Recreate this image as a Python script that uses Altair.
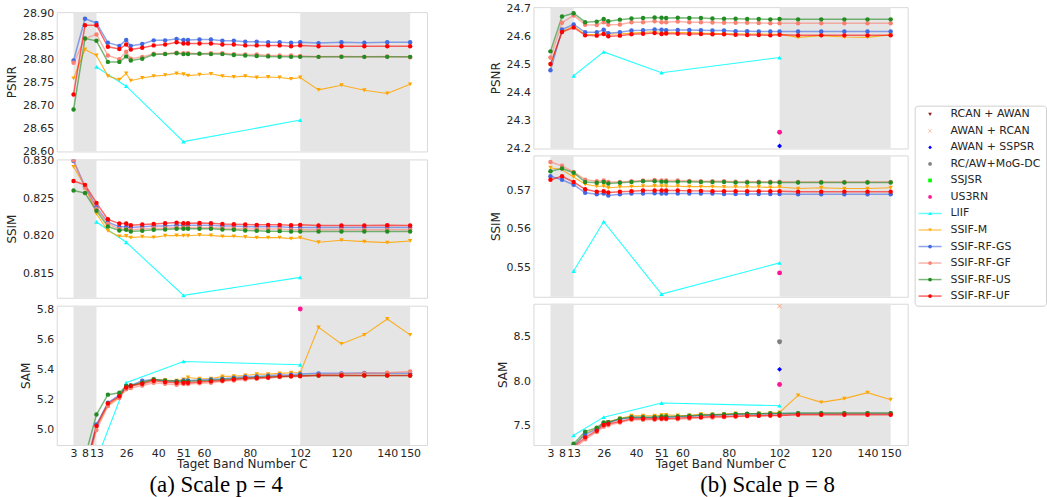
import altair as alt
import pandas as pd

# ---------------- data ----------------
X = [3, 8, 13, 18, 23, 26, 28, 33, 38, 43, 48, 51, 53, 58, 63, 68, 73, 78, 83, 88,
     93, 98, 102, 110, 120, 130, 140, 150]
X_LIIF = [13, 26, 51, 102]
X_SINGLE = 102
X_TICKS = [3, 8, 13, 26, 40, 51, 60, 80, 102, 120, 140, 150]
SHADE_FROM = [3, 102]
SHADE_TO = [13, 150]

SERIES = ["LIIF", "SSIF-M", "SSIF-RF-GS", "SSIF-RF-GF", "SSIF-RF-US", "SSIF-RF-UF"]
SINGLES = ["RCAN + AWAN", "AWAN + RCAN", "AWAN + SSPSR", "RC/AW+MoG-DCN", "SSJSR", "US3RN"]

# ---- scale p = 4 ----
P4_PSNR_LIIF = [28.784, 28.742, 28.621, 28.668]
P4_PSNR_M = [28.759, 28.822, 28.809, 28.764, 28.756, 28.770, 28.754, 28.760, 28.764, 28.766,
             28.770, 28.768, 28.765, 28.767, 28.769, 28.764, 28.762, 28.764, 28.761, 28.762,
             28.761, 28.758, 28.761, 28.734, 28.744, 28.733, 28.726, 28.746]
P4_PSNR_GS = [28.798, 28.889, 28.880, 28.837, 28.830, 28.843, 28.830, 28.834, 28.842, 28.842,
              28.845, 28.843, 28.843, 28.844, 28.844, 28.841, 28.841, 28.839, 28.839, 28.838,
              28.838, 28.837, 28.838, 28.836, 28.838, 28.837, 28.838, 28.838]
P4_PSNR_GF = [28.793, 28.846, 28.855, 28.809, 28.801, 28.817, 28.802, 28.806, 28.813, 28.813,
              28.815, 28.814, 28.814, 28.813, 28.814, 28.814, 28.812, 28.811, 28.811, 28.809,
              28.809, 28.809, 28.808, 28.806, 28.807, 28.806, 28.807, 28.805]
P4_PSNR_US = [28.691, 28.846, 28.841, 28.795, 28.795, 28.807, 28.798, 28.802, 28.811, 28.812,
              28.814, 28.812, 28.812, 28.813, 28.812, 28.812, 28.810, 28.809, 28.808, 28.807,
              28.806, 28.806, 28.806, 28.806, 28.806, 28.806, 28.806, 28.806]
P4_PSNR_UF = [28.724, 28.875, 28.875, 28.828, 28.823, 28.833, 28.822, 28.826, 28.831, 28.833,
              28.838, 28.835, 28.835, 28.835, 28.835, 28.833, 28.833, 28.831, 28.831, 28.831,
              28.831, 28.829, 28.831, 28.829, 28.829, 28.829, 28.829, 28.829]

P4_SSIM_LIIF = [0.82184, 0.81912, 0.81202, 0.81443]
P4_SSIM_M = [0.82921, 0.82658, 0.82294, 0.82066, 0.81991, 0.81996, 0.81974, 0.81987, 0.81978, 0.82000,
             0.82004, 0.82000, 0.82000, 0.82009, 0.82004, 0.81991, 0.81991, 0.81983, 0.81974, 0.81974,
             0.81974, 0.81961, 0.81974, 0.81912, 0.81939, 0.81921, 0.81908, 0.81930]
P4_SSIM_GS = [0.8300, 0.8266, 0.8238, 0.8218, 0.8212, 0.8212, 0.8211, 0.8212, 0.8213, 0.8213,
              0.8214, 0.8214, 0.8214, 0.8214, 0.8214, 0.8213, 0.8213, 0.8212, 0.8212, 0.8212,
              0.8212, 0.8211, 0.8211, 0.8211, 0.8211, 0.8211, 0.8211, 0.8211]
P4_SSIM_GF = [0.8301, 0.8264, 0.8236, 0.8216, 0.8209, 0.8209, 0.8208, 0.8209, 0.8210, 0.8210,
              0.8211, 0.8211, 0.8211, 0.8211, 0.8211, 0.8210, 0.8210, 0.8209, 0.8209, 0.8209,
              0.8209, 0.8208, 0.8208, 0.8208, 0.8208, 0.8208, 0.8208, 0.8208]
P4_SSIM_US = [0.82605, 0.82570, 0.82333, 0.82123, 0.82070, 0.82079, 0.82057, 0.82066, 0.82079, 0.82083,
              0.82092, 0.82092, 0.82092, 0.82092, 0.82092, 0.82083, 0.82079, 0.82070, 0.82066, 0.82061,
              0.82061, 0.82057, 0.82057, 0.82057, 0.82057, 0.82057, 0.82057, 0.82057]
P4_SSIM_UF = [0.82732, 0.82680, 0.82439, 0.82219, 0.82162, 0.82162, 0.82140, 0.82149, 0.82158, 0.82167,
              0.82175, 0.82167, 0.82167, 0.82171, 0.82167, 0.82158, 0.82154, 0.82149, 0.82145, 0.82145,
              0.82145, 0.82140, 0.82145, 0.82136, 0.82136, 0.82136, 0.82140, 0.82136]

P4_SAM_LIIF = [4.80, 5.312, 5.453, 5.431]
P4_SAM_M = [4.40, 4.71, 5.013, 5.163, 5.218, 5.281, 5.290, 5.316, 5.334, 5.330,
            5.325, 5.334, 5.347, 5.338, 5.338, 5.354, 5.356, 5.360, 5.369, 5.369,
            5.374, 5.378, 5.378, 5.679, 5.569, 5.629, 5.734, 5.629]
P4_SAM_GS = [4.42, 4.73, 5.035, 5.180, 5.229, 5.290, 5.294, 5.325, 5.334, 5.325,
             5.321, 5.327, 5.327, 5.330, 5.334, 5.338, 5.345, 5.352, 5.354, 5.358,
             5.363, 5.365, 5.369, 5.374, 5.374, 5.376, 5.374, 5.374]
P4_SAM_GF = [4.38, 4.70, 4.998, 5.158, 5.211, 5.268, 5.277, 5.294, 5.312, 5.305,
             5.299, 5.303, 5.303, 5.308, 5.312, 5.321, 5.327, 5.334, 5.338, 5.343,
             5.349, 5.352, 5.354, 5.365, 5.369, 5.374, 5.378, 5.387]
P4_SAM_US = [4.50, 4.82, 5.101, 5.233, 5.246, 5.290, 5.294, 5.312, 5.334, 5.325,
             5.321, 5.321, 5.321, 5.325, 5.327, 5.334, 5.338, 5.343, 5.347, 5.352,
             5.354, 5.356, 5.360, 5.360, 5.360, 5.360, 5.360, 5.360]
P4_SAM_UF = [4.40, 4.72, 5.026, 5.174, 5.222, 5.281, 5.290, 5.305, 5.325, 5.316,
             5.312, 5.312, 5.312, 5.316, 5.321, 5.327, 5.334, 5.341, 5.343, 5.347,
             5.354, 5.356, 5.356, 5.360, 5.360, 5.360, 5.360, 5.360]
P4_SAM_SINGLE = {"US3RN": 5.80}

# ---- scale p = 8 ----
P8_PSNR_LIIF = [24.459, 24.544, 24.470, 24.524]
P8_PSNR_M = [24.497, 24.617, 24.636, 24.605, 24.607, 24.610, 24.608, 24.608, 24.611, 24.614,
             24.616, 24.614, 24.614, 24.613, 24.613, 24.611, 24.610, 24.609, 24.609, 24.608,
             24.608, 24.607, 24.607, 24.596, 24.602, 24.597, 24.596, 24.605]
P8_PSNR_GS = [24.479, 24.624, 24.642, 24.614, 24.614, 24.623, 24.611, 24.614, 24.620, 24.621,
              24.624, 24.623, 24.621, 24.622, 24.622, 24.621, 24.620, 24.620, 24.618, 24.618,
              24.617, 24.617, 24.617, 24.617, 24.617, 24.617, 24.617, 24.617]
P8_PSNR_GF = [24.524, 24.648, 24.674, 24.641, 24.640, 24.650, 24.641, 24.642, 24.650, 24.650,
              24.653, 24.650, 24.650, 24.652, 24.650, 24.650, 24.649, 24.648, 24.648, 24.648,
              24.647, 24.646, 24.646, 24.646, 24.646, 24.646, 24.646, 24.646]
P8_PSNR_US = [24.546, 24.670, 24.682, 24.650, 24.652, 24.661, 24.653, 24.659, 24.663, 24.665,
              24.667, 24.666, 24.665, 24.666, 24.665, 24.665, 24.663, 24.662, 24.662, 24.661,
              24.661, 24.660, 24.661, 24.660, 24.660, 24.660, 24.660, 24.660]
P8_PSNR_UF = [24.501, 24.615, 24.631, 24.603, 24.602, 24.608, 24.600, 24.602, 24.607, 24.609,
              24.611, 24.608, 24.610, 24.609, 24.608, 24.608, 24.607, 24.607, 24.605, 24.604,
              24.604, 24.603, 24.605, 24.603, 24.603, 24.603, 24.603, 24.603]
P8_PSNR_SINGLE = {"AWAN + SSPSR": 24.209, "US3RN": 24.258}

P8_SSIM_LIIF = [0.5490, 0.5618, 0.5430, 0.5511]
P8_SSIM_M = [0.5758, 0.5753, 0.5734, 0.5715, 0.5710, 0.5710, 0.5706, 0.5708, 0.5709, 0.5710,
             0.5711, 0.5710, 0.5710, 0.5710, 0.5709, 0.5709, 0.5709, 0.5708, 0.5708, 0.5708,
             0.5708, 0.5707, 0.5708, 0.5704, 0.5706, 0.5704, 0.5704, 0.5706]
P8_SSIM_GS = [0.5736, 0.5727, 0.5714, 0.5693, 0.5689, 0.5691, 0.5686, 0.5689, 0.5691, 0.5691,
              0.5692, 0.5691, 0.5691, 0.5691, 0.5691, 0.5691, 0.5691, 0.5690, 0.5690, 0.5690,
              0.5690, 0.5690, 0.5690, 0.5689, 0.5689, 0.5689, 0.5689, 0.5689]
P8_SSIM_GF = [0.5773, 0.5763, 0.5747, 0.5727, 0.5723, 0.5725, 0.5721, 0.5721, 0.5723, 0.5725,
              0.5726, 0.5725, 0.5725, 0.5725, 0.5724, 0.5723, 0.5723, 0.5723, 0.5722, 0.5722,
              0.5722, 0.5722, 0.5722, 0.5721, 0.5721, 0.5721, 0.5721, 0.5721]
P8_SSIM_US = [0.5749, 0.5756, 0.5745, 0.5721, 0.5719, 0.5721, 0.5717, 0.5719, 0.5721, 0.5723,
              0.5723, 0.5722, 0.5722, 0.5722, 0.5722, 0.5721, 0.5721, 0.5721, 0.5720, 0.5720,
              0.5720, 0.5720, 0.5720, 0.5720, 0.5720, 0.5720, 0.5720, 0.5720]
P8_SSIM_UF = [0.5727, 0.5736, 0.5721, 0.5702, 0.5696, 0.5697, 0.5694, 0.5696, 0.5697, 0.5699,
              0.5699, 0.5699, 0.5699, 0.5699, 0.5698, 0.5698, 0.5697, 0.5697, 0.5697, 0.5697,
              0.5697, 0.5697, 0.5697, 0.5696, 0.5696, 0.5696, 0.5696, 0.5696]
P8_SSIM_SINGLE = {"US3RN": 0.5485}

P8_SAM_LIIF = [7.395, 7.598, 7.756, 7.726]
P8_SAM_M = [6.91, 7.11, 7.27, 7.417, 7.470, 7.530, 7.545, 7.583, 7.613, 7.613,
            7.613, 7.620, 7.624, 7.617, 7.617, 7.632, 7.628, 7.632, 7.639, 7.635,
            7.639, 7.643, 7.650, 7.842, 7.763, 7.805, 7.872, 7.793]
P8_SAM_GS = [6.92, 7.12, 7.275, 7.406, 7.462, 7.530, 7.538, 7.575, 7.598, 7.594,
             7.594, 7.598, 7.598, 7.602, 7.609, 7.617, 7.620, 7.624, 7.628, 7.632,
             7.632, 7.635, 7.635, 7.639, 7.639, 7.639, 7.639, 7.639]
P8_SAM_GF = [6.88, 7.08, 7.24, 7.350, 7.432, 7.492, 7.508, 7.538, 7.568, 7.568,
             7.568, 7.575, 7.575, 7.575, 7.583, 7.590, 7.594, 7.598, 7.605, 7.609,
             7.613, 7.617, 7.620, 7.632, 7.635, 7.639, 7.639, 7.639]
P8_SAM_US = [6.95, 7.15, 7.301, 7.436, 7.481, 7.538, 7.541, 7.579, 7.598, 7.598,
             7.598, 7.605, 7.605, 7.605, 7.613, 7.620, 7.624, 7.628, 7.632, 7.635,
             7.635, 7.639, 7.639, 7.643, 7.643, 7.643, 7.643, 7.643]
P8_SAM_UF = [6.90, 7.10, 7.26, 7.372, 7.447, 7.511, 7.523, 7.549, 7.579, 7.579,
             7.579, 7.583, 7.583, 7.587, 7.594, 7.598, 7.605, 7.605, 7.609, 7.613,
             7.613, 7.617, 7.617, 7.624, 7.624, 7.624, 7.624, 7.624]
P8_SAM_SINGLE = {"RCAN + AWAN": 8.432, "AWAN + RCAN": 8.838, "AWAN + SSPSR": 8.132,
                 "RC/AW+MoG-DCN": 8.44, "US3RN": 7.962}

# ---------------- styles ----------------
SERIES_COLORS = ["#00ffff", "#ffa500", "#4169e1", "#fa8072", "#228b22", "#ff0000"]
SERIES_SHAPES = ["triangle-up", "triangle-down", "circle", "circle", "circle", "circle"]
X_PATH = "M-1,-1L1,1M-1,1L1,-1"
SINGLE_COLORS = ["#8b1a1a", "#ffa07a", "#0000ff", "#808080", "#00ff00", "#ff1493"]
SINGLE_SHAPES = ["triangle-down", X_PATH, "diamond", "circle", "square", "circle"]
ALL_NAMES = SERIES + SINGLES
ALL_COLORS = SERIES_COLORS + SINGLE_COLORS
ALL_SHAPES = SERIES_SHAPES + SINGLE_SHAPES

FONT = "DejaVu Sans"
TXT = "#262626"
FRAME = "#d9d9d9"
SHADE = "#e5e5e5"

XSCALE = alt.Scale(domain=[-4.35, 157.35], nice=False, zero=False)
COLOR = alt.Color("series:N", scale=alt.Scale(domain=ALL_NAMES, range=ALL_COLORS), legend=None)
SHAPE = alt.Shape("series:N", scale=alt.Scale(domain=ALL_NAMES, range=ALL_SHAPES), legend=None)

SHADE_DF = pd.DataFrame({"x0": SHADE_FROM, "x1": SHADE_TO})


def lines_frame(liif, m, gs, gf, us, uf):
    rows = [{"x": a, "y": b, "series": "LIIF"} for a, b in zip(X_LIIF, liif)]
    for name, vals in zip(SERIES[1:], [m, gs, gf, us, uf]):
        rows += [{"x": a, "y": b, "series": name} for a, b in zip(X, vals)]
    return pd.DataFrame(rows)


def panel(df, singles, ydom, yticks, yfmt, ytitle, w, h, bottom):
    if bottom:
        xaxis = alt.Axis(values=X_TICKS, title="Taget Band Number C", labelOverlap=False,
                         labelFlush=False, ticks=False, domain=False, grid=False,
                         labelFontSize=11, titleFontSize=12, labelPadding=2, titlePadding=1,
                         labelColor=TXT, titleColor=TXT, labelFont=FONT, titleFont=FONT,
                         titleFontWeight="normal")
    else:
        xaxis = None
    yaxis = alt.Axis(values=yticks, format=yfmt, title=ytitle, labelOverlap=False,
                     labelFlush=False, ticks=False, domain=False, grid=False,
                     labelFontSize=11, titleFontSize=12, labelPadding=3, titlePadding=4,
                     labelColor=TXT, titleColor=TXT, labelFont=FONT, titleFont=FONT,
                     titleFontWeight="normal")
    ysc = alt.Scale(domain=ydom, nice=False, zero=False)
    x_enc = alt.X("x:Q", scale=XSCALE, axis=xaxis)
    y_enc = alt.Y("y:Q", scale=ysc, axis=yaxis)

    shade = alt.Chart(SHADE_DF).mark_rect(color=SHADE).encode(
        x=alt.X("x0:Q", scale=XSCALE, axis=xaxis), x2="x1:Q")
    rf = df[df.series.str.startswith("SSIF-RF")]
    other = df[~df.series.str.startswith("SSIF-RF")]
    l_other = alt.Chart(other).mark_line(clip=True, strokeWidth=1.1, opacity=0.85).encode(
        x=x_enc, y=y_enc, color=COLOR)
    l_rf = alt.Chart(rf).mark_line(clip=True, strokeWidth=1.5, opacity=0.6).encode(
        x=x_enc, y=y_enc, color=COLOR)
    pts = alt.Chart(df).mark_point(filled=True, clip=True, size=20, opacity=1).encode(
        x=x_enc, y=y_enc, color=COLOR, shape=SHAPE)
    layers = [shade, l_other, l_rf, pts]
    if singles:
        sdf = pd.DataFrame({"x": [X_SINGLE] * len(singles), "y": list(singles.values()),
                            "series": list(singles.keys())})
        filled = sdf[sdf.series != "AWAN + RCAN"]
        cross = sdf[sdf.series == "AWAN + RCAN"]
        if len(filled):
            layers.append(alt.Chart(filled).mark_point(filled=True, clip=True, size=24, opacity=1)
                          .encode(x=x_enc, y=y_enc, color=COLOR, shape=SHAPE))
        if len(cross):
            layers.append(alt.Chart(cross).mark_point(filled=False, clip=True, size=18,
                                                      strokeWidth=1, opacity=1)
                          .encode(x=x_enc, y=y_enc, color=COLOR, shape=SHAPE))
    return alt.layer(*layers).properties(width=w, height=h,
                                         view=alt.ViewBackground(stroke=FRAME))


def spacer():
    return alt.Chart(pd.DataFrame({"a": [0]})).mark_rect(opacity=0).encode(
        x=alt.value(0), x2=alt.value(1), y=alt.value(0), y2=alt.value(1)
    ).properties(width=1, height=1, view=alt.ViewBackground(stroke="transparent"))


# ---------------- panels ----------------
LW, RW = 372, 376
p4_psnr = panel(lines_frame(P4_PSNR_LIIF, P4_PSNR_M, P4_PSNR_GS, P4_PSNR_GF, P4_PSNR_US, P4_PSNR_UF),
                {}, [28.5995, 28.9036], [28.60, 28.65, 28.70, 28.75, 28.80, 28.85, 28.90], ".2f",
                "PSNR", LW, 140, False)
p4_ssim = panel(lines_frame(P4_SSIM_LIIF, P4_SSIM_M, P4_SSIM_GS, P4_SSIM_GF, P4_SSIM_US, P4_SSIM_UF),
                {}, [0.8117, 0.8302], [0.815, 0.820, 0.825, 0.830], ".3f", "SSIM", LW, 139, False)
p4_sam = panel(lines_frame(P4_SAM_LIIF, P4_SAM_M, P4_SAM_GS, P4_SAM_GF, P4_SAM_US, P4_SAM_UF),
               P4_SAM_SINGLE, [4.899, 5.822], [5.0, 5.2, 5.4, 5.6, 5.8], ".1f", "SAM", LW, 140, True)

p8_psnr = panel(lines_frame(P8_PSNR_LIIF, P8_PSNR_M, P8_PSNR_GS, P8_PSNR_GF, P8_PSNR_US, P8_PSNR_UF),
                P8_PSNR_SINGLE, [24.2, 24.7035], [24.2, 24.3, 24.4, 24.5, 24.6, 24.7], ".1f",
                "PSNR", RW, 142, False)
p8_ssim = panel(lines_frame(P8_SSIM_LIIF, P8_SSIM_M, P8_SSIM_GS, P8_SSIM_GF, P8_SSIM_US, P8_SSIM_UF),
                P8_SSIM_SINGLE, [0.5423, 0.5790], [0.55, 0.56, 0.57], ".2f", "SSIM", RW, 142, False)
p8_sam = panel(lines_frame(P8_SAM_LIIF, P8_SAM_M, P8_SAM_GS, P8_SAM_GF, P8_SAM_US, P8_SAM_UF),
               P8_SAM_SINGLE, [7.286, 8.865], [7.5, 8.0, 8.5], ".1f", "SAM", RW, 142, True)

# ---------------- legend ----------------
LEG_W, LEG_H = 132, 201
leg = pd.DataFrame({
    "series": SINGLES + SERIES,
    "row": list(range(12)),
    "has_line": [False] * 6 + [True] * 6,
})
leg["x_line0"] = 4
leg["x_line1"] = 27
leg["x_mark"] = 15.5
leg["x_text"] = 36
LX = alt.Scale(domain=[0, LEG_W], nice=False, zero=False)
LY = alt.Scale(domain=[-0.524, 11.584], nice=False, zero=False, reverse=True)
leg_lines = alt.Chart(leg[leg.has_line]).mark_rule(strokeWidth=1.5, opacity=0.6).encode(
    x=alt.X("x_line0:Q", scale=LX, axis=None), x2="x_line1:Q",
    y=alt.Y("row:Q", scale=LY, axis=None), color=COLOR)
leg_filled = alt.Chart(leg[leg.series != "AWAN + RCAN"]).mark_point(filled=True, size=14, opacity=1).encode(
    x=alt.X("x_mark:Q", scale=LX, axis=None), y=alt.Y("row:Q", scale=LY, axis=None),
    color=COLOR, shape=SHAPE)
leg_cross = alt.Chart(leg[leg.series == "AWAN + RCAN"]).mark_point(filled=False, size=12, strokeWidth=1).encode(
    x=alt.X("x_mark:Q", scale=LX, axis=None), y=alt.Y("row:Q", scale=LY, axis=None),
    color=COLOR, shape=SHAPE)
leg_text = alt.Chart(leg).mark_text(align="left", baseline="middle", fontSize=11, font=FONT,
                                    color=TXT, limit=96, ellipsis="\u200b").encode(
    x=alt.X("x_text:Q", scale=LX, axis=None), y=alt.Y("row:Q", scale=LY, axis=None),
    text="series:N")
legend = alt.layer(leg_lines, leg_filled, leg_cross, leg_text).properties(
    width=LEG_W, height=LEG_H,
    view=alt.ViewBackground(stroke="#d0d0d0", cornerRadius=3))

# ---------------- layout ----------------
cap_a = alt.TitleParams("(a) Scale p = 4", orient="bottom", anchor="middle", font="Liberation Serif",
                        fontSize=23, fontWeight="normal", color="black", offset=22,
                        baseline="alphabetic")
cap_b = alt.TitleParams("(b) Scale p = 8", orient="bottom", anchor="middle", font="Liberation Serif",
                        fontSize=23, fontWeight="normal", color="black", offset=22,
                        baseline="alphabetic")

left = alt.vconcat(spacer(),
                   alt.vconcat(p4_psnr, p4_ssim, p4_sam, spacing=8, bounds="flush"),
                   spacing=4, bounds="flush", title=cap_a)
right_panels = alt.vconcat(p8_psnr, p8_ssim, p8_sam, spacing=7, bounds="flush")
legend_col = alt.vconcat(spacer(), legend, spacing=96)
right = alt.hconcat(right_panels, legend_col, spacing=5, title=cap_b)

chart = alt.hconcat(left, right, spacing=61).properties(
    padding={"left": 5, "top": 0, "right": 0, "bottom": 0},
    background="white",
).configure_view(stroke=FRAME)

chart.save("out.html", embed_options={"renderer": "svg", "actions": False})
